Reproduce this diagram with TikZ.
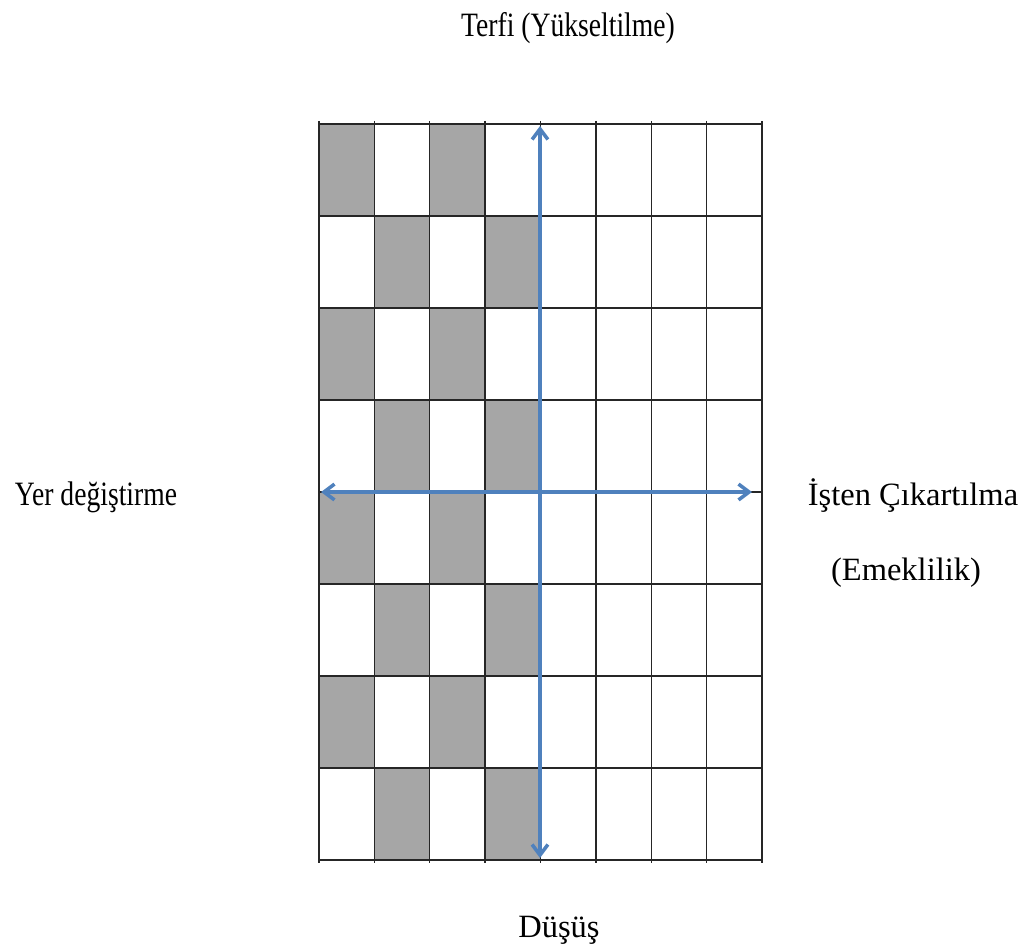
\documentclass[tikz,border=0pt]{standalone}
\usepackage{fontspec}
\setmainfont{Liberation Serif}
\usepackage{graphicx}
\usetikzlibrary{arrows.meta}
\definecolor{axisblue}{RGB}{79, 129, 189}
\definecolor{cellgray}{RGB}{166, 166, 166}

\begin{document}
\begin{tikzpicture}[x=0.02cm, y=-0.02cm,
    gridline/.style={draw=black!85, line width=0.8pt},
    axis/.style={draw=axisblue, line width=2pt,
        {Straight Barb[length=6pt, width=9pt]}-{Straight Barb[length=6pt, width=9pt]}},
    lbl/.style={font=\fontsize{18.5}{22}\selectfont, inner sep=0pt, anchor=base}
]
    \useasboundingbox (0,0) rectangle (1024,946);

    % shaded cells
    \foreach \r in {0,2,4,6} {
        \foreach \c in {0,2} {
            \fill[cellgray] ({319+\c*55.375},{124+\r*92}) rectangle ++(55.375,92);
            \fill[cellgray] ({319+(\c+1)*55.375},{124+(\r+1)*92}) rectangle ++(55.375,92);
        }
    }

    % grid
    \foreach \c in {0,...,8}
        \draw[gridline] ({319+\c*55.375},121) -- ({319+\c*55.375},863);
    \foreach \r in {0,...,8}
        \draw[gridline] (319,{124+\r*92}) -- (762,{124+\r*92});

    % axes
    \coordinate (axtop) at (540,126);
    \coordinate (axbottom) at (540,858);
    \coordinate (axleft) at (321,492);
    \coordinate (axright) at (752,492);
    \draw[axis] (axbottom) -- (axtop);
    \draw[axis] (axleft) -- (axright);

    % labels
    \node[lbl] (promo) at (568,37) {\scalebox{0.85}[1.05]{Terfi (Yükseltilme)}};
    \node[lbl] (transfer) at (96,505) {\scalebox{0.85}[1.05]{Yer değiştirme}};
    \node[lbl] (dismiss) at (913,505) {İşten Çıkartılma};
    \node[lbl] (retire) at (906,580) {(Emeklilik)};
    \node[lbl] (demote) at (559,937) {Düşüş};
\end{tikzpicture}
\end{document}
